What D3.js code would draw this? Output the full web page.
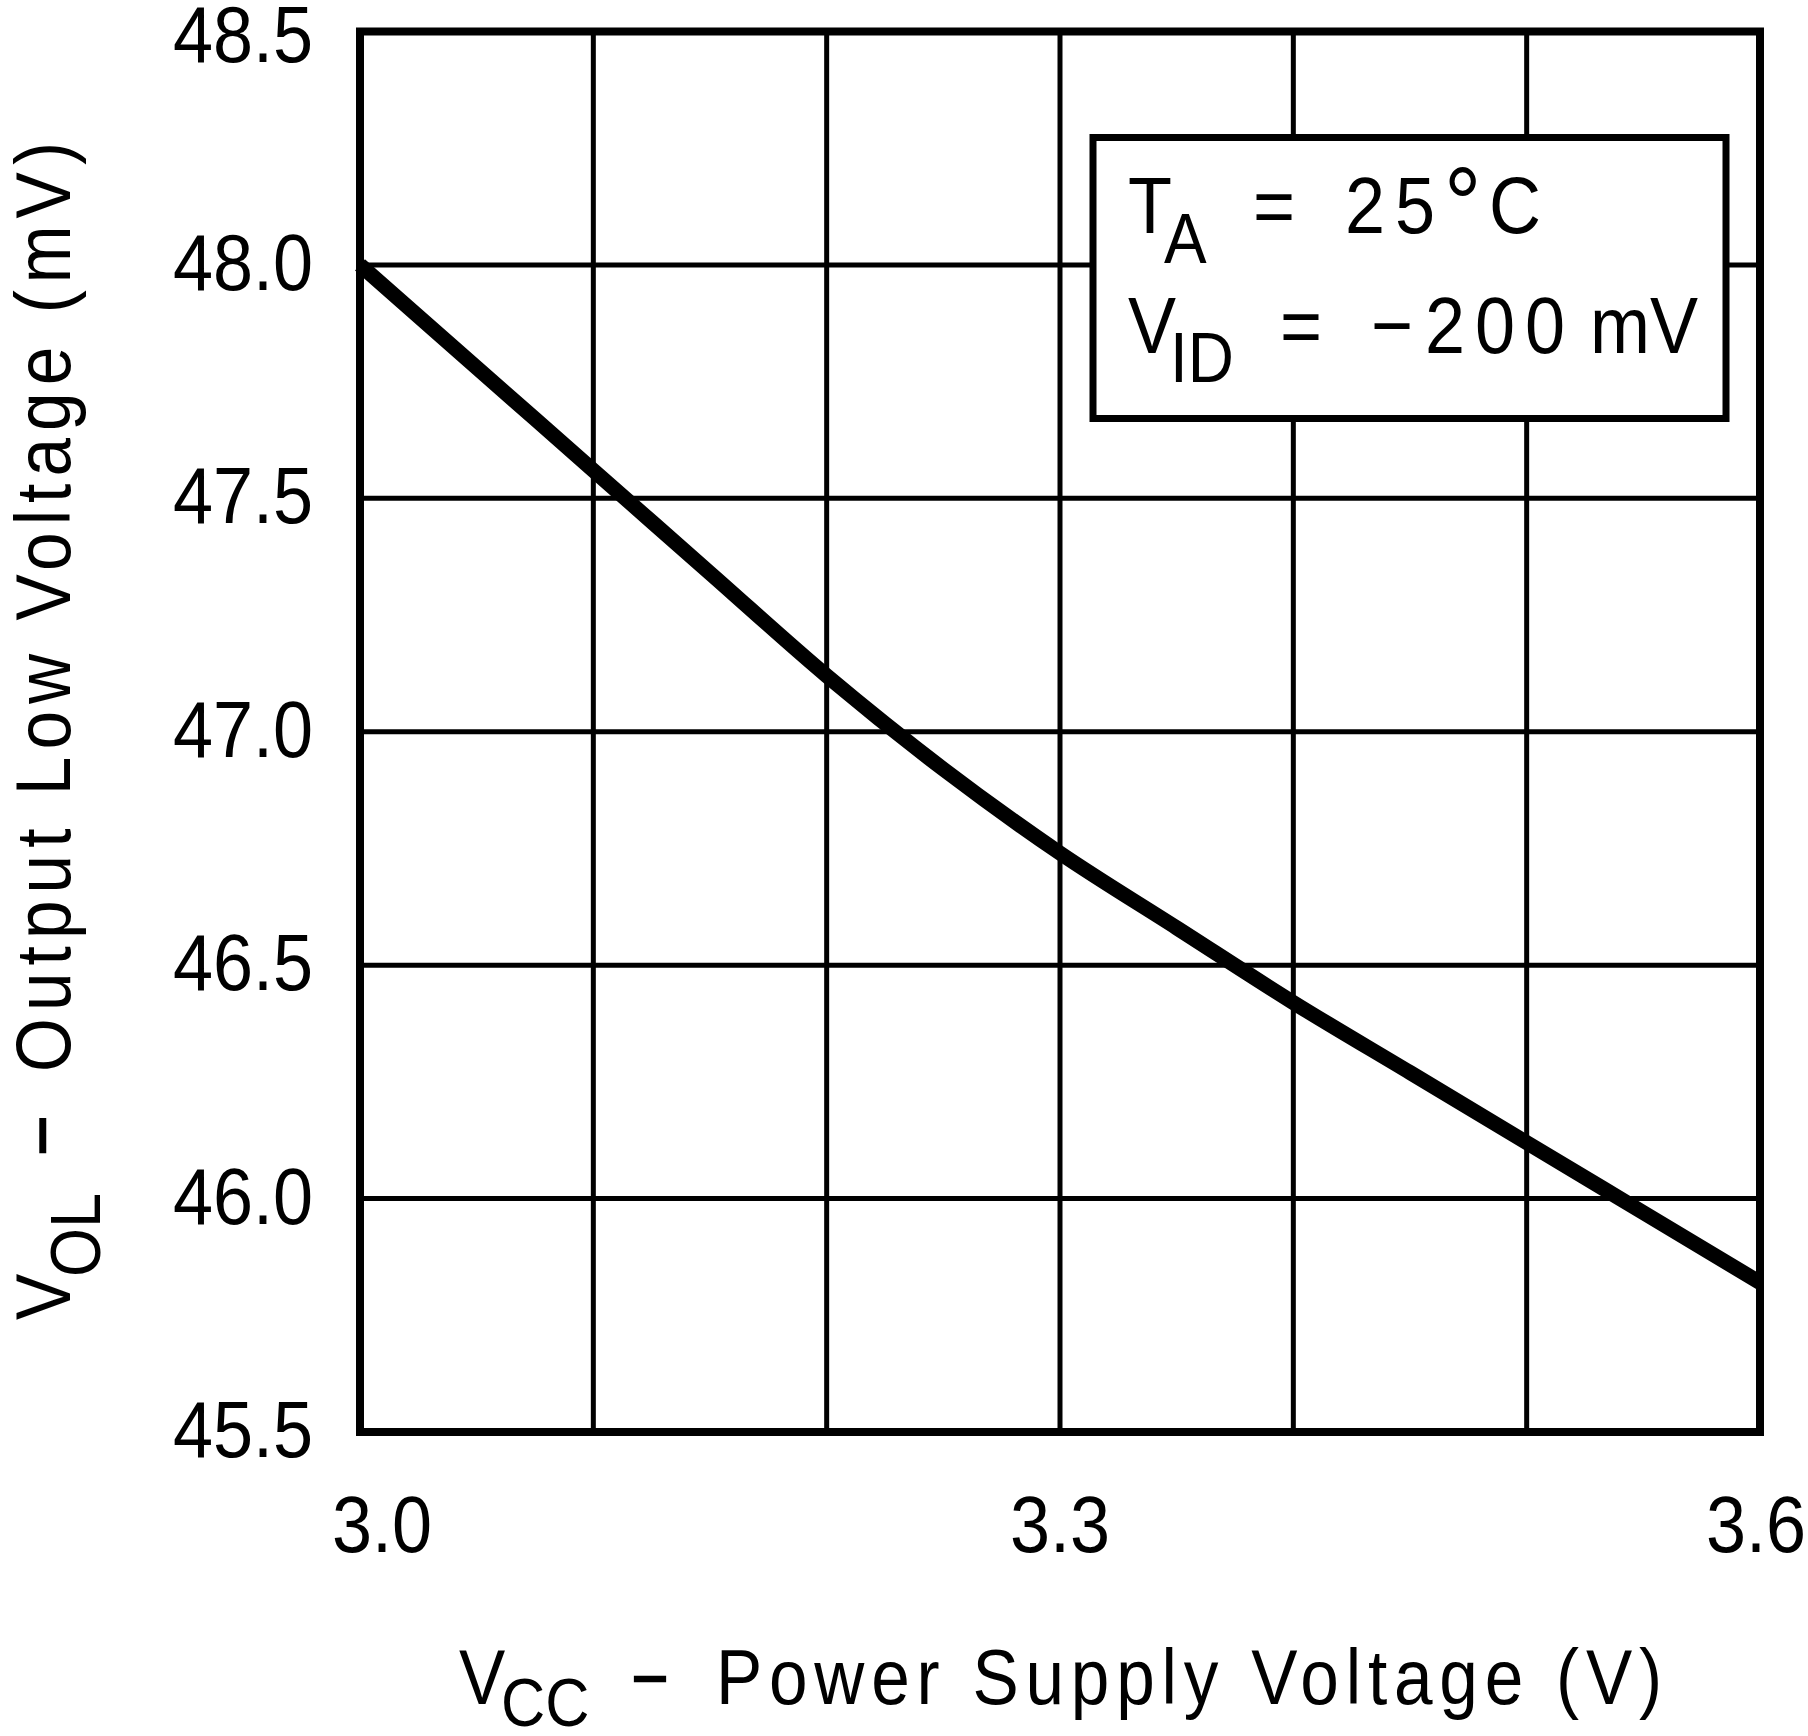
<!DOCTYPE html>
<html>
<head>
<meta charset="utf-8">
<script src="https://cdn.jsdelivr.net/npm/d3@7"></script>
<style>
  html, body { margin: 0; padding: 0; background: #fff; }
  svg { display: block; }
  text { font-family: "Liberation Sans", Arial, sans-serif; fill: #000; }
</style>
</head>
<body>
<svg id="chart" width="1808" height="1736"></svg>
<script>
// ---- data ----
const vcc = [3.00, 3.05, 3.10, 3.15, 3.20, 3.25, 3.30, 3.35, 3.40, 3.45, 3.50, 3.55, 3.60];
const vol = [48.00, 47.78, 47.56, 47.34, 47.12, 46.92, 46.74, 46.58, 46.42, 46.27, 46.12, 45.97, 45.82];
const xGrid = [3.0, 3.1, 3.2, 3.3, 3.4, 3.5, 3.6];
const xTickLabels = [3.0, 3.3, 3.6];
const yTicks = [45.5, 46.0, 46.5, 47.0, 47.5, 48.0, 48.5];

const svg = d3.select("#chart");
const X0 = 360, X1 = 1760, Y0 = 31.5, Y1 = 1432;
const SX = 0.9;

const x = d3.scaleLinear().domain([3.0, 3.6]).range([X0, X1]);
const y = d3.scaleLinear().domain([45.5, 48.5]).range([Y1, Y0]);

// text helper with horizontal compression
function txt(g, px, py, str, size, anchor, extra) {
  const t = g.append("text")
    .attr("transform", `translate(${px},${py}) scale(${SX},1)`)
    .attr("font-size", size)
    .attr("text-anchor", anchor || "start")
    .text(str);
  if (extra) extra(t);
  return t;
}
const thick = t => t.attr("stroke", "#000").attr("stroke-width", 2.5);

// grid
const grid = svg.append("g");
grid.selectAll("line.v").data(xGrid.slice(1, -1)).enter().append("line")
  .attr("x1", d => x(d)).attr("x2", d => x(d)).attr("y1", Y0).attr("y2", Y1)
  .attr("stroke", "#000").attr("stroke-width", 5);
grid.selectAll("line.h").data(yTicks.slice(1, -1)).enter().append("line")
  .attr("y1", d => y(d)).attr("y2", d => y(d)).attr("x1", X0).attr("x2", X1)
  .attr("stroke", "#000").attr("stroke-width", 5);

// curve
const pts = vcc.map((v, i) => [v, vol[i]]);
svg.append("path").datum(pts)
  .attr("d", d3.line().x(d => x(d[0])).y(d => y(d[1])).curve(d3.curveMonotoneX))
  .attr("fill", "none").attr("stroke", "#000").attr("stroke-width", 15)
  .attr("stroke-linejoin", "round");

// frame
svg.append("rect").attr("x", X0).attr("y", Y0).attr("width", X1 - X0).attr("height", Y1 - Y0)
  .attr("fill", "none").attr("stroke", "#000").attr("stroke-width", 8);

// y tick labels
const yl = svg.append("g");
yTicks.forEach(d => txt(yl, 313, Math.max(y(d) + 25, 62), d3.format(".1f")(d), 80, "end"));

// x tick labels
const xl = svg.append("g");
xTickLabels.forEach((d, i) => {
  if (i === 0) txt(xl, x(d) - 28, 1552, d3.format(".1f")(d), 80, "start");
  else if (i === xTickLabels.length - 1) txt(xl, 1806, 1552, d3.format(".1f")(d), 80, "end");
  else txt(xl, x(d), 1552, d3.format(".1f")(d), 80, "middle");
});

// legend
const lg = svg.append("g");
lg.append("rect").attr("x", 1093).attr("y", 137.5).attr("width", 633).attr("height", 281)
  .attr("fill", "#fff").attr("stroke", "#000").attr("stroke-width", 7);
txt(lg, 1128, 233, "T", 80);
txt(lg, 1164, 263, "A", 71);
txt(lg, 1253, 233, "=", 80);
txt(lg, 1345, 233, "2", 80);
txt(lg, 1395, 233, "5", 80);
txt(lg, 1444, 240, "°", 104);
txt(lg, 1489, 233, "C", 80);
txt(lg, 1128, 353, "V", 80);
txt(lg, 1170, 382, "ID", 71);
txt(lg, 1280, 353, "=", 80);
txt(lg, 1371, 353, "−", 80);
txt(lg, 1425, 353, "200", 80, "start", t => t.attr("textLength", 140 / SX).attr("lengthAdjust", "spacing"));
txt(lg, 1590, 353, "mV", 80);

// x title
const xt = svg.append("g");
txt(xt, 459, 1704, "V", 77);
txt(xt, 501, 1726, "CC", 68);
txt(xt, 635, 1694, "–", 60, "start", thick);
txt(xt, 716, 1704, "Power Supply Voltage (V)", 77, "start",
  t => t.attr("textLength", 946 / SX).attr("lengthAdjust", "spacing"));

// y title (rotated)
const yt = svg.append("g").attr("transform", "translate(70,1320) rotate(-90)");
txt(yt, 0, 0, "V", 77);
txt(yt, 43, 30, "OL", 70);
txt(yt, 168, -10, "–", 66, "start", thick);
txt(yt, 248, 0, "Output Low Voltage (mV)", 77, "start",
  t => t.attr("textLength", 930 / SX).attr("lengthAdjust", "spacing"));
</script>
</body>
</html>
